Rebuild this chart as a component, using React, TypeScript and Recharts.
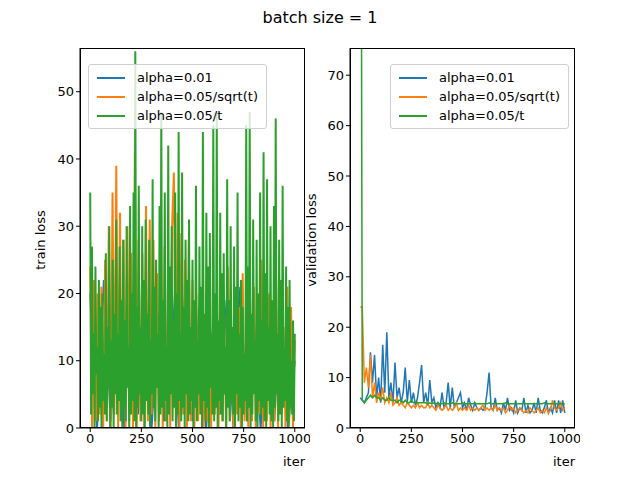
import React from "react";
import { Line, LineChart, XAxis, YAxis } from "recharts";

const BLUE = "#1f77b4";
const ORANGE = "#ff7f0e";
const GREEN = "#2ca02c";
const FONT = "DejaVu Sans, sans-serif";

const X_TICKS = [0, 250, 500, 750, 1000];
const TRAIN_TICKS = [0, 10, 20, 30, 40, 50];
const VAL_TICKS = [0, 10, 20, 30, 40, 50, 60, 70];
const LABELS = ["alpha=0.01", "alpha=0.05/sqrt(t)", "alpha=0.05/t"];

// train loss (left)
const trainBlue = [20, 0, 22, 1, 18, 0, 21, 2, 19, 0, 17, 1, 20, 0, 22, 1, 18, 0, 15, 2, 19, 0, 21, 1, 16, 0, 18, 1, 20, 0, 10];
const trainOrange = [
  24, 0, 22, 1, 20, 2, 21, 0, 25, 1, 30, 0, 35, 2, 39, 0, 32, 1, 28, 0, 30, 1, 26, 0, 41, 0, 28, 1, 26, 0,
  33, 1, 31, 2, 28, 0, 23, 1, 25, 0, 27, 1, 21, 0, 30, 38, 1, 32, 0, 29, 2, 25, 0, 28, 1, 22, 0, 20, 1, 12,
  18, 0, 16, 1, 21, 0, 14, 2, 19, 0, 22, 1, 17, 0, 24, 1, 15, 0, 20, 2, 18, 0, 23, 1, 16, 0, 19, 1, 21, 0,
  17, 2, 25, 0, 18, 1, 20, 0, 16, 1, 22, 0, 19, 2, 15, 0, 21, 1, 18, 0, 13,
];
const trainGreen = [
  35, 2, 27, 5, 14, 0, 24, 8, 12, 1, 22, 3, 18, 0, 20, 4, 11, 2, 26, 1, 15, 6, 30, 0, 13, 3, 25, 0, 17, 5,
  31, 2, 14, 4, 27, 1, 19, 0, 28, 3, 16, 1, 30, 6, 12, 0, 33, 2, 20, 4, 35, 1, 56, 0, 18, 3, 36, 5, 15, 1,
  30, 2, 22, 0, 31, 4, 17, 2, 28, 0, 13, 5, 37, 3, 21, 1, 25, 6, 14, 0, 33, 2, 47, 3, 19, 1, 35, 4, 12, 0,
  42, 2, 24, 5, 30, 1, 16, 3, 35, 0, 20, 2, 44, 4, 14, 1, 38, 3, 18, 0, 28, 5, 22, 1, 31, 2, 15, 4, 25, 0,
  19, 3, 36, 1, 13, 5, 27, 2, 21, 0, 44, 4, 17, 1, 32, 3, 24, 0, 29, 6, 14, 2, 45, 1, 20, 3, 47, 0, 16, 4,
  32, 2, 23, 1, 26, 5, 12, 0, 37, 3, 19, 1, 30, 4, 15, 2, 27, 0, 21, 5, 35, 1, 14, 3, 22, 0, 18, 2, 11, 4,
  45, 1, 24, 3, 47, 0, 17, 2, 31, 5, 13, 1, 28, 0, 20, 4, 35, 2, 16, 3, 41, 1, 23, 0, 37, 4, 15, 2, 30, 1,
  19, 0, 33, 3, 46, 5, 14, 1, 28, 2, 22, 0, 36, 3, 12, 4, 24, 1, 18, 0, 22, 3, 10, 2, 16, 1, 14,
];

// validation loss (right)
const valBlue = [6, 5.5, 5, 6, 7, 15, 9, 14.5, 6, 10, 5, 16.5, 7, 19, 6, 9, 5, 13, 6, 8, 5, 7, 12, 5, 9.5, 5, 7, 4.5, 6, 9, 12.5, 5, 7, 4.5, 9.5, 5, 6, 4, 5, 4, 7, 4, 5, 9, 4, 8, 4, 5, 6, 7, 4, 5, 3.5, 6, 4.5, 3.5, 5, 4, 3.5, 4, 3.5, 4, 7, 11, 4, 3.5, 6, 3.5, 4, 3, 5, 3.5, 6, 3.5, 4, 3, 5.5, 3, 4, 3.5, 6, 3, 4.5, 3, 3.5, 5, 3, 6, 3.5, 3, 4, 5.5, 3, 4, 3, 5.5, 3, 5.5, 3, 5.5, 3];
const valOrange = [24, 24, 9, 12, 8, 14.5, 6, 9, 5, 7, 5.5, 8, 5, 6, 5, 7, 4.5, 5, 6, 4.5, 5, 4.5, 4, 5, 4.5, 4, 4.5, 4, 5, 4, 4.5, 4, 4, 5, 4, 4.5, 4, 3.5, 4.5, 4, 3.5, 4, 4.5, 3.5, 4, 3.5, 4, 5, 3.5, 4, 3.5, 4, 3.5, 4.5, 3.5, 4, 3.5, 4, 3.5, 4, 4.5, 3.5, 4, 3.5, 4, 3.5, 4.5, 3.5, 4, 3.5, 4, 3, 3.5, 4.5, 3.5, 4, 3, 3.5, 4, 3.5, 3, 3.5, 3, 4, 3.5, 3, 3.5, 4, 3, 3.5, 3, 4, 3, 3.5, 5.5, 4, 3.5, 4, 5, 3.5, 4];
const valGreen = [200, 5.5, 5, 5.5, 6, 6.5, 6, 6.5, 6, 6, 5.5, 6, 5.5, 5.5, 6, 5.5, 5.5, 5.5, 5, 5.5, 5.5, 5, 5.5, 5, 5, 5.5, 5, 5, 5, 5, 5, 5, 5, 4.8, 5, 4.8, 5, 4.8, 5, 4.8, 4.8, 5, 4.8, 4.8, 4.8, 5, 4.8, 4.8, 4.8, 4.8, 5, 4.8, 4.8, 4.8, 4.8, 4.8, 5, 4.8, 4.8, 4.8, 4.8, 4.8, 4.8, 5, 4.8, 4.8, 4.8, 4.8, 4.8, 4.8, 4.8, 5, 4.8, 4.8, 4.8, 4.8, 4.8, 4.8, 4.8, 4.8, 5, 4.8, 4.8, 4.8, 4.8, 4.8, 4.8, 4.8, 4.8, 4.8, 5, 4.8, 4.8, 4.8, 4.8, 4.8, 4.8, 4.8, 4.8, 4.8, 4.8];

function toPoints(vals: number[]) {
  const step = 1000 / (vals.length - 1);
  return vals.map((v, i) => ({ it: i * step, v }));
}

const tick = { fill: "#000", fontSize: 13, fontFamily: FONT };

function Legend({ left }: { left: number }) {
  const colors = [BLUE, ORANGE, GREEN];
  return (
    <div
      style={{
        position: "absolute", left, top: 64, padding: "3px 8px 3px 8px",
        border: "1px solid #d0d0d0", borderRadius: 3, background: "rgba(255,255,255,0.8)",
        fontFamily: FONT, fontSize: 13, lineHeight: "19px",
      }}
    >
      {LABELS.map((l, i) => (
        <div key={l} style={{ display: "flex", alignItems: "center" }}>
          <span style={{ width: 28, height: 2, background: colors[i], marginRight: 12 }} />
          {l}
        </div>
      ))}
    </div>
  );
}

function Panel(props: {
  left: number; series: number[][]; max: number; ticks: number[]; legendLeft: number; width: number;
}) {
  const colors = [BLUE, ORANGE, GREEN];
  return (
    <div style={{ position: "absolute", left: props.left, top: 0, width: 310, height: 480 }}>
      <LineChart width={310} height={480} margin={{ top: 48, right: 5, left: 0, bottom: 22 }}>
        <XAxis
          dataKey="it" type="number" domain={[-50, 1050]} ticks={X_TICKS} tick={tick}
          tickSize={4} stroke="#000" height={30} allowDuplicatedCategory={false}
        />
        <YAxis
          type="number" domain={[0, props.max]} ticks={props.ticks} tick={tick}
          tickSize={4} stroke="#000" width={80} allowDataOverflow
        />
        {props.series.map((s, i) => (
          <Line
            key={i} data={toPoints(s)} dataKey="v" stroke={colors[i]} strokeWidth={props.width}
            dot={false} isAnimationActive={false} type="linear"
          />
        ))}
      </LineChart>
      <div style={{ position: "absolute", left: 80, top: 48, width: 225, height: 380, border: "1px solid #000", boxSizing: "border-box", pointerEvents: "none" }} />
      <div style={{ position: "absolute", left: 283, top: 454, fontFamily: FONT, fontSize: 13 }}>iter</div>
      <Legend left={props.legendLeft} />
    </div>
  );
}

export default function App() {
  return (
    <div style={{ position: "fixed", left: 0, top: 0, width: 640, height: 480, background: "#fff" }}>
      <div style={{ position: "absolute", left: 0, width: 640, top: 8, textAlign: "center", fontFamily: FONT, fontSize: 16 }}>
        batch size = 1
      </div>
      <Panel left={0} series={[trainBlue, trainOrange, trainGreen]} max={56.5} ticks={TRAIN_TICKS} legendLeft={88} width={2} />
      <Panel left={270} series={[valBlue, valOrange, valGreen]} max={75.4} ticks={VAL_TICKS} legendLeft={120} width={1.5} />
      <div
        style={{
          position: "absolute", left: 40, top: 240, transform: "translate(-50%,-50%) rotate(-90deg)",
          fontFamily: FONT, fontSize: 13, whiteSpace: "nowrap",
        }}
      >
        train loss
      </div>
      <div
        style={{
          position: "absolute", left: 311, top: 240, transform: "translate(-50%,-50%) rotate(-90deg)",
          fontFamily: FONT, fontSize: 13, whiteSpace: "nowrap",
        }}
      >
        validation loss
      </div>
    </div>
  );
}
